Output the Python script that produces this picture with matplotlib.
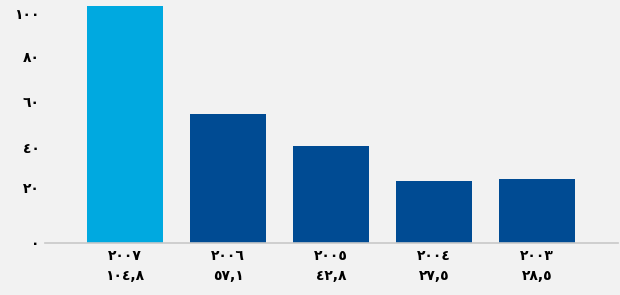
import matplotlib
import matplotlib.pyplot as plt
import matplotlib.transforms as mtransforms

matplotlib.use('Agg')

# data
years = ['٢٠٠٧', '٢٠٠٦', '٢٠٠٥', '٢٠٠٤', '٢٠٠٣']
values = [104.8, 57.1, 42.8, 27.5, 28.5]
value_labels = ['١٠٤,٨', '٥٧,١', '٤٢,٨', '٢٧,٥', '٢٨,٥']
yticks = [0, 20, 40, 60, 80, 100]
ytick_labels = ['٠', '٢٠', '٤٠', '٦٠', '٨٠', '١٠٠']
bar_colors = ['#00a9e0', '#004b93', '#004b93', '#004b93', '#004b93']

plt.rcParams['font.family'] = ['DejaVu Sans']

fig = plt.figure(figsize=(6.2, 2.95), dpi=100)
fig.patch.set_facecolor('#f2f2f2')
ax = fig.add_axes([0.0726, 0.1763, 0.924, 0.8237])
ax.set_facecolor('#f2f2f2')

x = list(range(len(years)))
ax.bar(x, values, width=0.738, color=bar_colors, zorder=2)

ax.set_xlim(-0.777, 4.786)
ax.set_ylim(0, 107.4)

for s in ['top', 'right', 'left']:
    ax.spines[s].set_visible(False)
ax.spines['bottom'].set_color('#c8c8c8')
ax.spines['bottom'].set_linewidth(1.2)

ax.set_yticks(yticks)
ax.set_yticklabels(ytick_labels, fontsize=10, fontweight='bold')
ax.tick_params(axis='y', length=0, pad=4)
# the reference labels sit a little above their gridline value
shifts = [0, 10, 5, 6, 5, 3]
for lbl, dy in zip(ax.get_yticklabels(), shifts):
    off = mtransforms.ScaledTranslation(0, dy / 100, fig.dpi_scale_trans)
    lbl.set_transform(lbl.get_transform() + off)

ax.set_xticks(x)
ax.set_xticklabels([y + '\n' + v for y, v in zip(years, value_labels)],
                   fontsize=10, fontweight='bold', linespacing=1.6)
ax.tick_params(axis='x', length=0, pad=4)

fig.savefig('out.png', dpi=100, facecolor=fig.get_facecolor())
